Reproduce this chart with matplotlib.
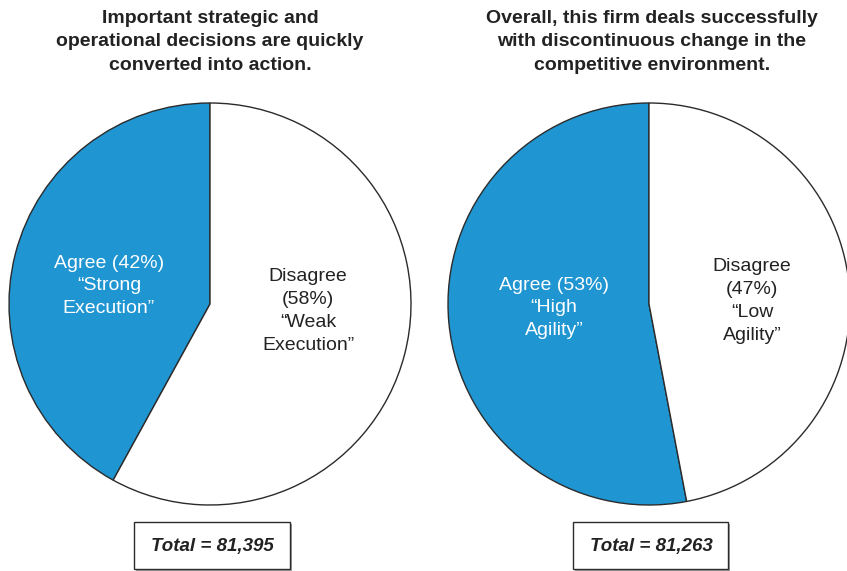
import matplotlib
matplotlib.use("Agg")
import matplotlib.pyplot as plt
from matplotlib.patches import Rectangle

plt.rcParams['font.family'] = ['Liberation Sans', 'DejaVu Sans']

# ---- data ----
titles = [
    "Important strategic and\noperational decisions are quickly\nconverted into action.",
    "Overall, this firm deals successfully\nwith discontinuous change in the\ncompetitive environment.",
]
categories = ["Agree", "Disagree"]
left_values = [42, 58]
right_values = [53, 47]
left_labels = ["Agree (42%)\n\u201cStrong\nExecution\u201d",
               "Disagree\n(58%)\n\u201cWeak\nExecution\u201d"]
right_labels = ["Agree (53%)\n\u201cHigh\nAgility\u201d",
                "Disagree\n(47%)\n\u201cLow\nAgility\u201d"]
totals = ["Total = 81,395", "Total = 81,263"]

BLUE = "#1f95d2"
EDGE = "#2b2b2b"
TXT = "#222222"

W, H = 847, 571
fig = plt.figure(figsize=(W / 100, H / 100), dpi=100)
ax = fig.add_axes([0, 0, 1, 1])

pies = [
    dict(values=left_values, labels=left_labels, center=(210, 267),
         label_pos=[(109, 285), (308, 260)], title_x=210, total_x=212,
         box=(134, 290)),
    dict(values=right_values, labels=right_labels, center=(649, 267),
         label_pos=[(554, 263), (752, 270)], title_x=652, total_x=651,
         box=(573, 728)),
]
R = 201

for i, p in enumerate(pies):
    ax.pie(p["values"], center=p["center"], radius=R, startangle=90,
           counterclock=True, colors=[BLUE, "white"],
           wedgeprops=dict(edgecolor=EDGE, linewidth=1.0), frame=True)
    for j, (lab, (lx, ly)) in enumerate(zip(p["labels"], p["label_pos"])):
        ax.text(lx, ly, lab, ha="center", va="center", fontsize=14,
                color="white" if j == 0 else TXT, linespacing=1.45)
    ax.text(p["title_x"], 529, titles[i], ha="center", va="center",
            fontsize=14, fontweight="bold", color=TXT, linespacing=1.48)
    # total box with shadow
    x0, x1 = p["box"]
    y0, y1 = 571 - 569, 571 - 522
    ax.add_patch(Rectangle((x0 + 2, y0 - 2), x1 - x0, y1 - y0,
                           facecolor="#a0a0a0", edgecolor="none", zorder=3))
    ax.add_patch(Rectangle((x0, y0), x1 - x0, y1 - y0, facecolor="white",
                           edgecolor=EDGE, linewidth=1.0, zorder=4))
    ax.text(p["total_x"], 571 - 546, totals[i], ha="center", va="center",
            fontsize=13.5, fontweight="bold", fontstyle="italic", color=TXT,
            zorder=5)

ax.set_xlim(0, W)
ax.set_ylim(0, H)
ax.set_aspect("auto")
ax.axis("off")

fig.savefig("out.png", dpi=100, facecolor="white")
